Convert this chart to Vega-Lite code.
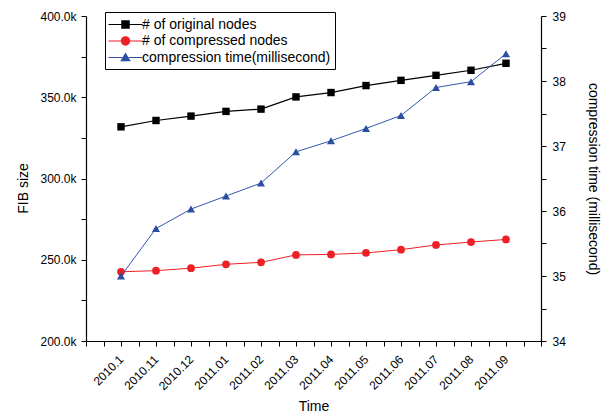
{
  "$schema": "https://vega.github.io/schema/vega-lite/v6.json",
  "width": 455,
  "height": 325,
  "autosize": {"type": "none"},
  "padding": {"left": 86, "top": 16, "right": 65, "bottom": 73},
  "background": "white",
  "config": {
    "view": {"stroke": null},
    "font": "Liberation Sans",
    "axis": {
      "domainColor": "black",
      "domainWidth": 1.2,
      "tickColor": "black",
      "tickWidth": 1,
      "tickSize": 5,
      "labelColor": "black",
      "labelFont": "Liberation Sans",
      "labelFontSize": 12,
      "titleFont": "Liberation Sans",
      "titleFontSize": 14,
      "titleFontWeight": "normal",
      "titleColor": "black",
      "grid": false,
      "labelOverlap": false,
      "labelFlush": false
    }
  },
  "data": {
    "values": [
      {"idx": 1, "time": "2010.1", "original": 331800, "compressed": 242600, "ctime": 35.0},
      {"idx": 2, "time": "2010.11", "original": 335700, "compressed": 243300, "ctime": 35.73},
      {"idx": 3, "time": "2010.12", "original": 338400, "compressed": 244800, "ctime": 36.03},
      {"idx": 4, "time": "2011.01", "original": 341300, "compressed": 247200, "ctime": 36.23},
      {"idx": 5, "time": "2011.02", "original": 342700, "compressed": 248400, "ctime": 36.43},
      {"idx": 6, "time": "2011.03", "original": 350200, "compressed": 253000, "ctime": 36.91},
      {"idx": 7, "time": "2011.04", "original": 352900, "compressed": 253300, "ctime": 37.08},
      {"idx": 8, "time": "2011.05", "original": 357200, "compressed": 254200, "ctime": 37.27},
      {"idx": 9, "time": "2011.06", "original": 360400, "compressed": 256200, "ctime": 37.47},
      {"idx": 10, "time": "2011.07", "original": 363500, "compressed": 259100, "ctime": 37.90},
      {"idx": 11, "time": "2011.08", "original": 366600, "compressed": 260900, "ctime": 37.99},
      {"idx": 12, "time": "2011.09", "original": 370900, "compressed": 262500, "ctime": 38.42}
    ]
  },
  "encoding": {
    "x": {
      "field": "idx",
      "type": "quantitative",
      "scale": {"domain": [0, 13], "nice": false, "zero": false},
      "axis": {
        "title": "Time",
        "titlePadding": 8,
        "values": [0, 0.5, 1, 1.5, 2, 2.5, 3, 3.5, 4, 4.5, 5, 5.5, 6, 6.5, 7, 7.5, 8, 8.5, 9, 9.5, 10, 10.5, 11, 11.5, 12, 12.5, 13],
        "labelAngle": -45,
        "labelAlign": "right",
        "labelBaseline": "middle",
        "labelFontSize": 12,
        "labelPadding": 11,
        "labelExpr": "datum.value % 1 === 0 && datum.value >= 1 && datum.value <= 12 ? ['2010.1','2010.11','2010.12','2011.01','2011.02','2011.03','2011.04','2011.05','2011.06','2011.07','2011.08','2011.09'][datum.value - 1] : ''"
      }
    }
  },
  "layer": [
    {
      "encoding": {
        "y": {
          "type": "quantitative",
          "scale": {"domain": [200000, 400000], "nice": false, "zero": false},
          "axis": {
            "title": "FIB size",
            "titlePadding": 9,
            "titleY": 172,
            "labelPadding": 5,
            "values": [200000, 225000, 250000, 275000, 300000, 325000, 350000, 375000, 400000],
            "labelExpr": "datum.value % 50000 === 0 ? format(datum.value / 1000, '.1f') + 'k' : ''"
          }
        }
      },
      "layer": [
        {"mark": {"type": "line", "color": "black", "strokeWidth": 1.2}, "encoding": {"y": {"field": "original"}}},
        {"mark": {"type": "point", "shape": "square", "filled": true, "color": "black", "size": 55, "opacity": 1}, "encoding": {"y": {"field": "original"}}},
        {"mark": {"type": "line", "color": "#ee1f25", "strokeWidth": 1}, "encoding": {"y": {"field": "compressed"}}},
        {"mark": {"type": "point", "shape": "circle", "filled": true, "color": "#ee1f25", "size": 60, "opacity": 1}, "encoding": {"y": {"field": "compressed"}}}
      ]
    },
    {
      "encoding": {
        "y": {
          "field": "ctime",
          "type": "quantitative",
          "scale": {"domain": [34, 39], "nice": false, "zero": false},
          "axis": {
            "orient": "right",
            "title": "compression time (millisecond)",
            "titlePadding": 20,
            "labelPadding": 6,
            "values": [34, 34.5, 35, 35.5, 36, 36.5, 37, 37.5, 38, 38.5, 39],
            "labelExpr": "datum.value % 1 === 0 ? format(datum.value, 'd') : ''"
          }
        }
      },
      "layer": [
        {"mark": {"type": "line", "color": "#3556b0", "strokeWidth": 1}},
        {"mark": {"type": "point", "shape": "triangle-up", "filled": true, "color": "#2b4ea2", "size": 65, "opacity": 1}}
      ]
    },
    {
      "transform": [
        {"fold": ["original", "compressed", "ctime"], "as": ["series", "v"]},
        {"filter": "false"}
      ],
      "mark": {"type": "point", "filled": true, "opacity": 1},
      "encoding": {
        "color": {
          "field": "series",
          "type": "nominal",
          "scale": {"domain": ["original", "compressed", "ctime"], "range": ["black", "#ee1f25", "#2b4ea2"]},
          "legend": {
            "orient": "none",
            "legendX": 19,
            "legendY": -4,
            "title": null,
            "strokeColor": "black",
            "padding": 4,
            "fillColor": "white",
            "labelFont": "Liberation Sans",
            "labelFontSize": 14,
            "labelColor": "black",
            "labelLimit": 400,
            "symbolSize": 289,
            "symbolStrokeWidth": 0,
            "symbolOffset": 8,
            "labelOffset": 8,
            "rowPadding": 0.5,
            "labelExpr": "{'original': '# of original nodes', 'compressed': '# of compressed nodes', 'ctime': 'compression time(millisecond)'}[datum.label]"
          }
        },
        "shape": {
          "field": "series",
          "type": "nominal",
          "scale": {
            "domain": ["original", "compressed", "ctime"],
            "range": [
              "M-2,-0.07H-0.4V0.07H-2Z M0.4,-0.07H2V0.07H0.4Z M-0.5,-0.5H0.5V0.5H-0.5Z",
              "M-2,-0.06H-0.4V0.06H-2Z M0.4,-0.06H2V0.06H0.4Z M-0.55,0A0.55,0.55 0 1,1 0.55,0A0.55,0.55 0 1,1 -0.55,0Z",
              "M-2,-0.06H-0.4V0.06H-2Z M0.4,-0.06H2V0.06H0.4Z M0,-0.6L0.62,0.45L-0.62,0.45Z"
            ]
          }
        }
      }
    }
  ],
  "resolve": {"scale": {"y": "independent"}}
}
